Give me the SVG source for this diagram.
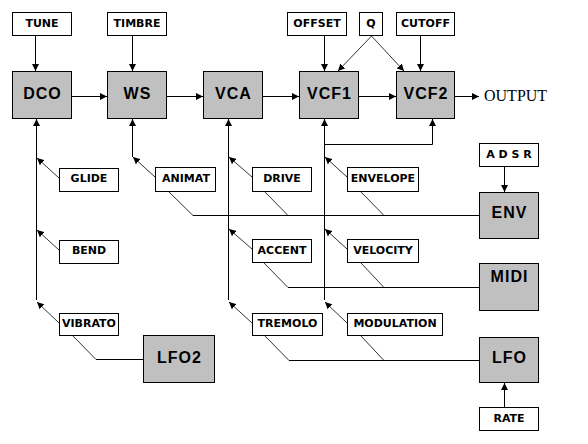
<svg xmlns="http://www.w3.org/2000/svg" width="588" height="444" viewBox="0 0 588 444">
<style>
.box{fill:#fff;stroke:#000;stroke-width:1}
.mod{fill:#c0c0c0;stroke:#000;stroke-width:1}
.lbl{font-family:"DejaVu Sans",Verdana,sans-serif;font-weight:bold;font-size:11px;text-anchor:middle;fill:#000}
.big{font-family:"Liberation Sans",Arial,sans-serif;font-weight:bold;font-size:16px;letter-spacing:1px;text-anchor:middle;fill:#000}
.ln{fill:none;stroke:#000;stroke-width:1}
.dg{fill:none;stroke:#000;stroke-width:0.8}
.ar{marker-end:url(#ah)}
</style>
<defs>
<marker id="ah" markerUnits="userSpaceOnUse" markerWidth="7" markerHeight="7" refX="7" refY="3.5" orient="auto">
<path d="M0,0 L7,3.5 L0,7 z" fill="#000"/>
</marker>
</defs>
<rect width="588" height="444" fill="#fff"/>
<g id="connectors">
<!-- top inputs -->
<path class="ln ar" d="M35.5,35 V71"/>
<path class="ln ar" d="M132.5,35 V71"/>
<path class="ln ar" d="M324.5,35 V71"/>
<path class="ln ar" d="M420.5,35 V71"/>
<path class="dg ar" d="M371.5,36 L338,71"/>
<path class="dg ar" d="M371.5,36 L404,71"/>
<!-- chain -->
<path class="ln ar" d="M72,96.5 H107"/>
<path class="ln ar" d="M167,96.5 H203"/>
<path class="ln ar" d="M263,96.5 H299"/>
<path class="ln ar" d="M359,96.5 H396"/>
<path class="ln ar" d="M455,96.5 H479"/>
<!-- modulation columns -->
<path class="ln ar" d="M36.5,300 V119"/>
<path class="ln ar" d="M132.5,157 V119"/>
<path class="ln ar" d="M228.5,300 V119"/>
<path class="ln ar" d="M324.5,300 V119"/>
<path class="ln ar" d="M324.5,144.5 H432.5 V119"/>
<!-- label arrows -->
<path class="dg ar" d="M59,178 L37,158"/>
<path class="dg ar" d="M59,250 L37,230"/>
<path class="dg ar" d="M59,323 L37,302"/>
<path class="dg ar" d="M155,177 L133,157"/>
<path class="dg ar" d="M252,177 L229,157"/>
<path class="dg ar" d="M252,249 L229,229"/>
<path class="dg ar" d="M252,323 L229,302"/>
<path class="dg ar" d="M347,177 L325,157"/>
<path class="dg ar" d="M347,249 L325,229"/>
<path class="dg ar" d="M347,323 L325,302"/>
<!-- source lines -->
<path class="dg" d="M169,192 L193,215.5"/>
<path class="dg" d="M265,192 L288,215.5"/>
<path class="dg" d="M361,192 L384,215.5"/>
<path class="ln" d="M193,215.5 H479"/>
<path class="dg" d="M264,263 L288,287.5"/>
<path class="dg" d="M361,263 L384,287.5"/>
<path class="ln" d="M288,287.5 H479"/>
<path class="dg" d="M265,336 L289,360.5"/>
<path class="dg" d="M361,336 L384,360.5"/>
<path class="ln" d="M289,360.5 H479"/>
<path class="dg" d="M73,336 L96,359.5"/>
<path class="ln" d="M96,359.5 H143"/>
<!-- env / lfo inputs -->
<path class="ln ar" d="M504.5,167 V192"/>
<path class="ln ar" d="M504.5,407 V383"/>
</g>
<g id="tune"><rect class="box" x="12.5" y="12.5" width="59" height="23"/><text class="lbl" x="42" y="27">TUNE</text></g>
<g id="timbre"><rect class="box" x="107.5" y="12.5" width="59" height="23"/><text class="lbl" x="137" y="27">TIMBRE</text></g>
<g id="offset"><rect class="box" x="287.5" y="12.5" width="59" height="23"/><text class="lbl" x="317" y="27">OFFSET</text></g>
<g id="q"><rect class="box" x="359.5" y="12.5" width="23" height="23"/><text class="lbl" x="371" y="27">Q</text></g>
<g id="cutoff"><rect class="box" x="396.5" y="12.5" width="58" height="23"/><text class="lbl" x="425.5" y="27">CUTOFF</text></g>
<g id="dco"><rect class="mod" x="12.5" y="71.5" width="59" height="47"/><text class="big" x="42.5" y="99">DCO</text></g>
<g id="ws"><rect class="mod" x="107.5" y="71.5" width="59" height="47"/><text class="big" x="137.5" y="99">WS</text></g>
<g id="vca"><rect class="mod" x="203.5" y="71.5" width="59" height="47"/><text class="big" x="233.5" y="99">VCA</text></g>
<g id="vcf1"><rect class="mod" x="299.5" y="71.5" width="59" height="47"/><text class="big" x="329.5" y="99">VCF1</text></g>
<g id="vcf2"><rect class="mod" x="396.5" y="71.5" width="58" height="47"/><text class="big" x="426" y="99">VCF2</text></g>
<g id="output"><text x="484" y="101" style="font-family:'Liberation Serif','Times New Roman',serif;font-size:16px">OUTPUT</text></g>
<g id="glide"><rect class="box" x="59.5" y="168.5" width="59" height="23"/><text class="lbl" x="89" y="182">GLIDE</text></g>
<g id="bend"><rect class="box" x="59.5" y="240.5" width="59" height="23"/><text class="lbl" x="89" y="254">BEND</text></g>
<g id="vibrato"><rect class="box" x="59.5" y="313.5" width="59" height="22"/><text class="lbl" x="89" y="326.5">VIBRATO</text></g>
<g id="animat"><rect class="box" x="155.5" y="167.5" width="60" height="24"/><text class="lbl" x="186" y="182">ANIMAT</text></g>
<g id="drive"><rect class="box" x="252.5" y="167.5" width="59" height="24"/><text class="lbl" x="282" y="182">DRIVE</text></g>
<g id="accent"><rect class="box" x="252.5" y="239.5" width="59" height="23"/><text class="lbl" x="282" y="254">ACCENT</text></g>
<g id="tremolo"><rect class="box" x="252.5" y="313.5" width="70" height="22"/><text class="lbl" x="287.5" y="326.5">TREMOLO</text></g>
<g id="envelope"><rect class="box" x="347.5" y="167.5" width="71" height="24"/><text class="lbl" x="383" y="182">ENVELOPE</text></g>
<g id="velocity"><rect class="box" x="347.5" y="239.5" width="71" height="23"/><text class="lbl" x="383" y="254">VELOCITY</text></g>
<g id="modulation"><rect class="box" x="347.5" y="313.5" width="95" height="22"/><text class="lbl" x="395" y="326.5">MODULATION</text></g>
<g id="adsr"><rect class="box" x="479.5" y="143.5" width="59" height="23"/><text class="lbl" x="509" y="158">A D S R</text></g>
<g id="env"><rect class="mod" x="479.5" y="192.5" width="59" height="46"/><text class="big" x="509.5" y="218">ENV</text></g>
<g id="midi"><rect class="mod" x="479.5" y="263.5" width="59" height="47"/><text class="big" x="509.5" y="282">MIDI</text></g>
<g id="lfo"><rect class="mod" x="479.5" y="337.5" width="59" height="45"/><text class="big" x="509.5" y="363">LFO</text></g>
<g id="rate"><rect class="box" x="479.5" y="407.5" width="59" height="23"/><text class="lbl" x="509" y="422">RATE</text></g>
<g id="lfo2"><rect class="mod" x="143.5" y="335.5" width="71" height="47"/><text class="big" x="179.5" y="363">LFO2</text></g>
</svg>
